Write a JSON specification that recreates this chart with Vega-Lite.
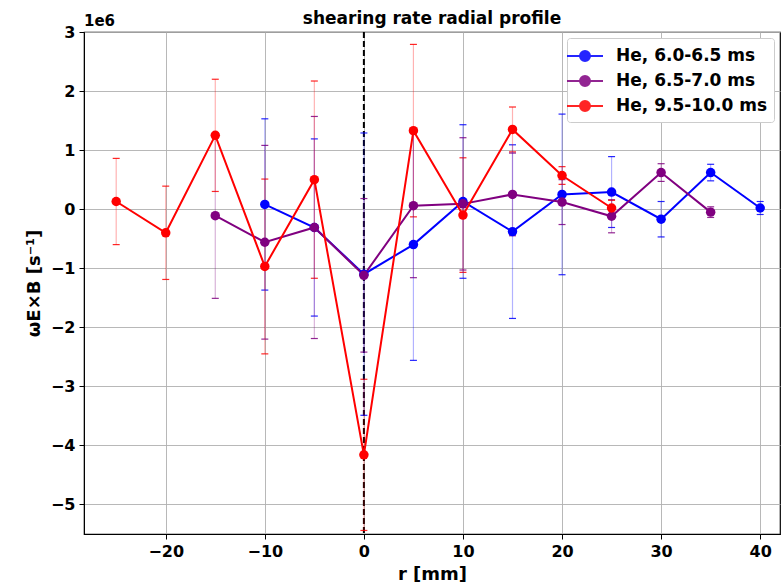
{
  "$schema": "https://vega.github.io/schema/vega-lite/v6.json",
  "width": 696,
  "height": 502,
  "autosize": {"type": "none"},
  "padding": {"left": 84, "top": 32, "right": 1, "bottom": 53},
  "background": "white",
  "title": {"text": "shearing rate radial profile", "font": "DejaVu Sans", "fontSize": 17, "fontWeight": "bold", "color": "black", "frame": "group", "anchor": "middle", "offset": -14},
  "config": {
    "font": "DejaVu Sans",
    "view": {"stroke": "black", "strokeWidth": 1.2},
    "axis": {"labelFont": "DejaVu Sans", "labelFontSize": 16, "labelFontWeight": "bold", "labelColor": "black", "titleFont": "DejaVu Sans", "titleFontSize": 18, "titleFontWeight": "bold", "titleColor": "black", "gridColor": "#b0b0b0", "gridWidth": 0.9, "domainColor": "black", "tickColor": "black", "tickSize": 5, "labelPadding": 4}
  },
  "datasets": {
    "profile": [
      {"r": -10, "v": 80000, "err": 1450000, "s": "He, 6.0-6.5 ms"},
      {"r": -5, "v": -310000, "err": 1500000, "s": "He, 6.0-6.5 ms"},
      {"r": 0, "v": -1100000, "err": 2390000, "s": "He, 6.0-6.5 ms"},
      {"r": 5, "v": -600000, "err": 1960000, "s": "He, 6.0-6.5 ms"},
      {"r": 10, "v": 130000, "err": 1300000, "s": "He, 6.0-6.5 ms"},
      {"r": 15, "v": -380000, "err": 1470000, "s": "He, 6.0-6.5 ms"},
      {"r": 20, "v": 250000, "err": 1360000, "s": "He, 6.0-6.5 ms"},
      {"r": 25, "v": 290000, "err": 600000, "s": "He, 6.0-6.5 ms"},
      {"r": 30, "v": -170000, "err": 300000, "s": "He, 6.0-6.5 ms"},
      {"r": 35, "v": 620000, "err": 140000, "s": "He, 6.0-6.5 ms"},
      {"r": 40, "v": 20000, "err": 110000, "s": "He, 6.0-6.5 ms"},
      {"r": -15, "v": -110000, "err": 1400000, "s": "He, 6.5-7.0 ms"},
      {"r": -10, "v": -560000, "err": 1640000, "s": "He, 6.5-7.0 ms"},
      {"r": -5, "v": -310000, "err": 1880000, "s": "He, 6.5-7.0 ms"},
      {"r": 0, "v": -1120000, "err": 1300000, "s": "He, 6.5-7.0 ms"},
      {"r": 5, "v": 60000, "err": 1220000, "s": "He, 6.5-7.0 ms"},
      {"r": 10, "v": 90000, "err": 1120000, "s": "He, 6.5-7.0 ms"},
      {"r": 15, "v": 250000, "err": 700000, "s": "He, 6.5-7.0 ms"},
      {"r": 20, "v": 120000, "err": 380000, "s": "He, 6.5-7.0 ms"},
      {"r": 25, "v": -120000, "err": 280000, "s": "He, 6.5-7.0 ms"},
      {"r": 30, "v": 620000, "err": 150000, "s": "He, 6.5-7.0 ms"},
      {"r": 35, "v": -50000, "err": 90000, "s": "He, 6.5-7.0 ms"},
      {"r": -25, "v": 130000, "err": 730000, "s": "He, 9.5-10.0 ms"},
      {"r": -20, "v": -400000, "err": 790000, "s": "He, 9.5-10.0 ms"},
      {"r": -15, "v": 1250000, "err": 950000, "s": "He, 9.5-10.0 ms"},
      {"r": -10, "v": -970000, "err": 1480000, "s": "He, 9.5-10.0 ms"},
      {"r": -5, "v": 500000, "err": 1670000, "s": "He, 9.5-10.0 ms"},
      {"r": 0, "v": -4160000, "err": 1280000, "s": "He, 9.5-10.0 ms"},
      {"r": 5, "v": 1330000, "err": 1460000, "s": "He, 9.5-10.0 ms"},
      {"r": 10, "v": -100000, "err": 970000, "s": "He, 9.5-10.0 ms"},
      {"r": 15, "v": 1350000, "err": 380000, "s": "He, 9.5-10.0 ms"},
      {"r": 20, "v": 570000, "err": 150000, "s": "He, 9.5-10.0 ms"},
      {"r": 25, "v": 20000, "err": 130000, "s": "He, 9.5-10.0 ms"}
    ],
    "marker": [{"r": 0, "v": 3000000, "label": "1e6"}]
  },
  "layer": [
    {
      "data": {"name": "marker"},
      "mark": {"type": "rule", "color": "black", "strokeDash": [6, 3], "strokeWidth": 2},
      "encoding": {"x": {"field": "r", "type": "quantitative"}}
    },
    {
      "data": {"name": "profile"},
      "mark": {"type": "errorbar", "ticks": {"size": 7, "thickness": 1.2, "opacity": 0.85}, "rule": {"opacity": 0.3, "strokeWidth": 1.2}},
      "encoding": {
        "x": {"field": "r", "type": "quantitative"},
        "y": {"field": "v", "type": "quantitative", "title": "ωE×B [s⁻¹]"},
        "yError": {"field": "err"},
        "color": {"field": "s", "type": "nominal"}
      }
    },
    {
      "data": {"name": "profile"},
      "mark": {"type": "line", "strokeWidth": 2},
      "encoding": {
        "x": {"field": "r", "type": "quantitative", "scale": {"domain": [-28.25, 42], "nice": false}, "title": "r [mm]", "axis": {"values": [-20, -10, 0, 10, 20, 30, 40], "labelExpr": "format(datum.value, 'd')", "titlePadding": 6}},
        "y": {"field": "v", "type": "quantitative", "scale": {"domain": [-5500000, 3000000], "nice": false}, "title": "ωE×B [s⁻¹]", "axis": {"values": [-5000000, -4000000, -3000000, -2000000, -1000000, 0, 1000000, 2000000, 3000000], "labelExpr": "format(datum.value / 1000000, 'd')", "titlePadding": 7}},
        "color": {"field": "s", "type": "nominal", "scale": {"domain": ["He, 6.0-6.5 ms", "He, 6.5-7.0 ms", "He, 9.5-10.0 ms"], "range": ["#0000ff", "#800080", "#ff0000"]}, "legend": {"title": null, "orient": "top-right", "offset": 6, "labelFont": "DejaVu Sans", "labelFontSize": 17, "labelFontWeight": "bold", "labelColor": "black", "symbolType": "M-1.8,0 L1.8,0 M-0.5,0 A0.5,0.5 0 1,1 0.5,0 A0.5,0.5 0 1,1 -0.5,0", "symbolSize": 400, "symbolStrokeWidth": 2, "rowPadding": 5, "labelOffset": 20, "fillColor": "white", "strokeColor": "#cccccc", "padding": 7, "cornerRadius": 3}}
      }
    },
    {
      "data": {"name": "profile"},
      "mark": {"type": "point", "filled": true, "size": 90, "opacity": 1},
      "encoding": {
        "x": {"field": "r", "type": "quantitative"},
        "y": {"field": "v", "type": "quantitative", "title": "ωE×B [s⁻¹]"},
        "color": {"field": "s", "type": "nominal"}
      }
    },
    {
      "data": {"name": "marker"},
      "mark": {"type": "text", "align": "left", "baseline": "bottom", "dy": -3, "dx": 0, "font": "DejaVu Sans", "fontSize": 15, "fontWeight": "bold", "color": "black"},
      "encoding": {"x": {"datum": -28.25, "type": "quantitative"}, "y": {"field": "v", "type": "quantitative"}, "text": {"field": "label"}}
    }
  ]
}
